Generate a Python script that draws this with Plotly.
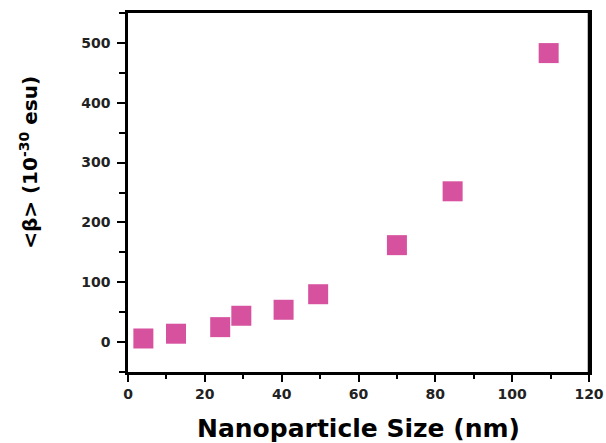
import plotly.graph_objects as go

# nanoparticle size (nm) vs hyperpolarizability <beta>
size_nm = [4, 12.5, 24, 29.5, 40.5, 49.5, 70, 84.5, 109.5]
beta = [6, 14, 25, 44, 54, 80, 162, 252, 483]

x_ticks = [0, 20, 40, 60, 80, 100, 120]
y_ticks = [0, 100, 200, 300, 400, 500]

fig = go.Figure()
fig.add_trace(go.Scatter(
    x=size_nm, y=beta, mode='markers',
    marker=dict(symbol='square', size=20, color='#d6529f',
                line=dict(width=0)),
    showlegend=False))

axis_font = dict(family='DejaVu Sans', size=14, color='#222', weight='bold')

fig.update_xaxes(
    range=[0, 120], tickvals=x_ticks, automargin=False,
    ticklabeloverflow='allow',
    showline=True, linecolor='black', linewidth=2.5, mirror=True,
    ticks='outside', ticklen=7, tickwidth=2, tickcolor='black',
    minor=dict(dtick=10, ticks='outside', ticklen=4, tickwidth=2, tickcolor='black'),
    showgrid=False, zeroline=False,
    tickfont=axis_font,
    title=dict(text='Nanoparticle Size (nm)', standoff=20,
               font=dict(family='DejaVu Sans', size=25, color='black', weight='bold')))

fig.update_yaxes(
    range=[-50, 550], tickvals=y_ticks, automargin=False,
    showline=True, linecolor='black', linewidth=2.5, mirror=True,
    ticks='outside', ticklen=8, tickwidth=2, tickcolor='black',
    minor=dict(dtick=50, ticks='outside', ticklen=6, tickwidth=2, tickcolor='black'),
    showgrid=False, zeroline=False,
    tickfont=axis_font, ticklabelstandoff=4)

# y title sits above the plot centre in the original, so place it by hand
fig.add_annotation(
    text='&lt;β&gt; (10<sup>-30</sup> esu)', textangle=-90,
    xref='paper', yref='paper', x=-0.215, y=0.585,
    xanchor='center', yanchor='middle', showarrow=False,
    font=dict(family='DejaVu Sans', size=20, color='black', weight='bold'))

# right frame edge, in case the mirrored axis line gets cut at the window edge
fig.add_shape(type='line', xref='paper', yref='paper',
              x0=1, x1=1, y0=0, y1=1,
              line=dict(color='black', width=2.5))

fig.update_layout(
    width=606, height=443,
    margin=dict(l=128, r=17, t=13, b=71),
    plot_bgcolor='white', paper_bgcolor='white',
    font=dict(family='DejaVu Sans'))

# drop the page's default margin and scrollbars so the figure fills the window
fig.write_html("out.html",
               config={'displayModeBar': False},
               post_script="document.body.style.margin='0';"
                           "document.body.style.overflow='hidden';"
                           "document.documentElement.style.overflow='hidden';")
